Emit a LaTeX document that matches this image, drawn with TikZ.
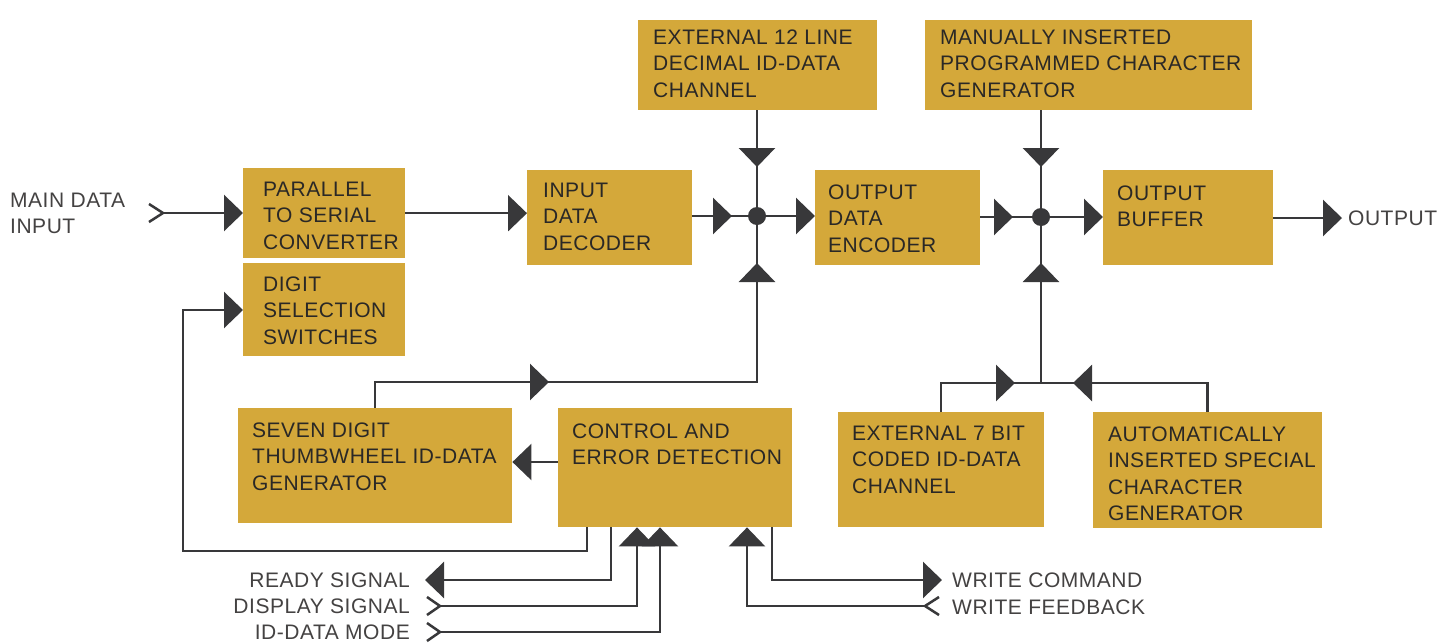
\documentclass[tikz,border=0pt]{standalone}
\usepackage{fontspec}
\setmainfont[LetterSpace=2.5]{Liberation Sans}
\usetikzlibrary{arrows.meta,calc}
\definecolor{boxc}{RGB}{212,168,58}
\definecolor{linec}{RGB}{56,56,58}
\definecolor{txtc}{RGB}{42,40,38}
\definecolor{lblc}{RGB}{68,66,66}
\begin{document}
\begin{tikzpicture}[x=1pt,y=-1pt,
  box/.style={fill=boxc, draw=none, inner sep=0pt, anchor=north west},
  txt/.style={text=txtc, align=left, inner sep=0pt, anchor=north west, font=\fontsize{21}{26.5}\selectfont},
  lbl/.style={text=lblc, inner sep=0pt, font=\fontsize{21}{26}\selectfont},
  conn/.style={draw=linec, line width=2.5pt, line join=miter},
  tipc/.style={-{Triangle[length=19pt,width=36pt]}},
  jdot/.style={circle, fill=linec, inner sep=0pt, minimum size=18pt},
  chev/.style={draw=linec, line width=2.5pt, line join=miter}
]
\fill[white] (0,0) rectangle (1450,643);
\useasboundingbox (0,0) rectangle (1450,643);

% boxes
\node[box, minimum width=162pt, minimum height=90pt] (par) at (243,168) {};
\node[box, minimum width=162pt, minimum height=93pt] (dss) at (243,263) {};
\node[box, minimum width=165pt, minimum height=95pt] (dec) at (527,170) {};
\node[box, minimum width=165pt, minimum height=95pt] (enc) at (815,170) {};
\node[box, minimum width=170pt, minimum height=95pt] (buf) at (1103,170) {};
\node[box, minimum width=239pt, minimum height=90pt] (ext12) at (638,20) {};
\node[box, minimum width=327pt, minimum height=90pt] (man) at (925,20) {};
\node[box, minimum width=274pt, minimum height=115pt] (sev) at (238,408) {};
\node[box, minimum width=234pt, minimum height=119pt] (ctl) at (558,408) {};
\node[box, minimum width=206pt, minimum height=115pt] (ext7) at (838,412) {};
\node[box, minimum width=229pt, minimum height=116pt] (auto) at (1093,412) {};

% box texts
\node[txt] (part) at (263,181.5) {PARALLEL\\TO SERIAL\\CONVERTER};
\node[txt] (dsst) at (263,276.5) {DIGIT\\SELECTION\\SWITCHES};
\node[txt] (dect) at (543,182.5) {INPUT\\DATA\\DECODER};
\node[txt] (enct) at (828,184.5) {OUTPUT\\DATA\\ENCODER};
\node[txt] (buft) at (1117,185.5) {OUTPUT\\BUFFER};
\node[txt] (ext12t) at (653,29.5) {EXTERNAL 12 LINE\\DECIMAL ID-DATA\\CHANNEL};
\node[txt] (mant) at (940,29.5) {MANUALLY INSERTED\\PROGRAMMED CHARACTER\\GENERATOR};
\node[txt] (sevt) at (252,422.5) {SEVEN DIGIT\\THUMBWHEEL ID-DATA\\GENERATOR};
\node[txt] (ctlt) at (572,423.5) {CONTROL AND\\ERROR DETECTION};
\node[txt] (ext7t) at (852,425.5) {EXTERNAL 7 BIT\\CODED ID-DATA\\CHANNEL};
\node[txt] (autot) at (1108,426.5) {AUTOMATICALLY\\INSERTED SPECIAL\\CHARACTER\\GENERATOR};

% coordinates
\coordinate (J1) at (757,216);
\coordinate (J2) at (1041,217);
\coordinate (min) at (163,213);
\coordinate (c1) at (757,382);
\coordinate (c2) at (1041,383);
\coordinate (out) at (1342,218);
\coordinate (cs) at (558,462);
\coordinate (fb1) at (587,551);
\coordinate (fb2) at (183,310);
\coordinate (rd) at (611,580);
\coordinate (rdt) at (425,580);
\coordinate (ds) at (637,606);
\coordinate (dsc) at (440,606);
\coordinate (idm) at (660,632);
\coordinate (idc) at (440,632);
\coordinate (wc) at (772,580);
\coordinate (wct) at (942,580);
\coordinate (wf) at (747,606);
\coordinate (wfc) at (925,606);

% main data input
\draw[chev] ($(min)+(-14,-9)$) -- (min) -- ($(min)+(-14,9)$);
\draw[conn,tipc] (min) -- (min -| par.west);
\draw[conn,tipc] (par.east) -- (par.east -| dec.west);

% junction 1
\draw[conn] (dec.east |- J1) -- (J1);
\draw[conn,tipc] (dec.east |- J1) -- ($(J1)+(-25,0)$);
\draw[conn,tipc] (J1) -- (J1 -| enc.west);
\draw[conn] (ext12.south -| J1) -- (J1);
\draw[conn,tipc] (ext12.south -| J1) -- ($(J1)+(0,-49)$);
\draw[conn] (sev.north) |- (c1) -- (J1);
\draw[conn,tipc] (sev.north |- c1) -- ($(c1)+(-208,0)$);
\draw[conn,tipc] (c1) -- ($(J1)+(0,47)$);

% junction 2
\draw[conn] (enc.east |- J2) -- (J2);
\draw[conn,tipc] (enc.east |- J2) -- ($(J2)+(-28,0)$);
\draw[conn,tipc] (J2) -- (J2 -| buf.west);
\draw[conn] (man.south -| J2) -- (J2);
\draw[conn,tipc] (man.south -| J2) -- ($(J2)+(0,-50)$);
\draw[conn] (c2) -- (J2);
\draw[conn,tipc] (c2) -- ($(J2)+(0,46)$);
\draw[conn] (ext7.north) |- (c2);
\draw[conn] (auto.north) |- (c2);
\draw[conn,tipc] (ext7.north |- c2) -- ($(c2)+(-26,0)$);
\draw[conn,tipc] (auto.north |- c2) -- ($(c2)+(32,0)$);

\node[jdot] (j1d) at (J1) {};
\node[jdot] (j2d) at (J2) {};

% output
\draw[conn,tipc] (buf.east |- out) -- (out);
\node[lbl, anchor=west] (outl) at (1348,218) {OUTPUT};

% control -> seven digit
\draw[conn,tipc] (cs) -- (cs -| sev.east);

% control -> digit selection
\draw[conn,tipc] (ctl.south -| fb1) -- (fb1) -| (fb2) -- (fb2 -| dss.west);

% ready signal
\draw[conn,tipc] (ctl.south -| rd) -- (rd) -- (rdt);
% display signal
\draw[chev] ($(dsc)+(-13,-9)$) -- (dsc) -- ($(dsc)+(-13,9)$);
\draw[conn,tipc] (dsc) -- (ds) -- (ds |- ctl.south);
% id-data mode
\draw[chev] ($(idc)+(-13,-9)$) -- (idc) -- ($(idc)+(-13,9)$);
\draw[conn,tipc] (idc) -- (idm) -- (idm |- ctl.south);
% write command
\draw[conn,tipc] (ctl.south -| wc) -- (wc) -- (wct);
% write feedback
\draw[chev] ($(wfc)+(14,-9)$) -- (wfc) -- ($(wfc)+(14,9)$);
\draw[conn,tipc] (wfc) -- (wf) -- (wf |- ctl.south);

% labels
\node[lbl, anchor=north west, align=left] (mdi) at (10,192.5) {MAIN DATA\\INPUT};
\node[lbl, anchor=east] (rdl) at (410,580) {READY SIGNAL};
\node[lbl, anchor=east] (dsl) at (410,606) {DISPLAY SIGNAL};
\node[lbl, anchor=east] (idl) at (410,632) {ID-DATA MODE};
\node[lbl, anchor=west] (wcl) at (952,580) {WRITE COMMAND};
\node[lbl, anchor=west] (wfl) at (952,607) {WRITE FEEDBACK};
\end{tikzpicture}
\end{document}
